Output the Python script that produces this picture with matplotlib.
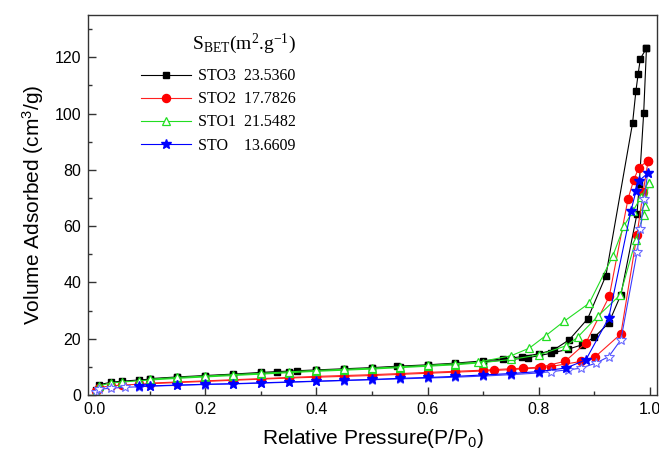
"""
BET isotherms (adsorption / desorption) for the STO samples.
"""

import matplotlib
matplotlib.use("Agg")
import matplotlib.pyplot as plt
import matplotlib.ticker as mticker

# --- STO3 (black squares) ---
p_sto3_ads = [0.003, 0.008, 0.03, 0.05, 0.08, 0.10, 0.15, 0.20, 0.25, 0.30, 0.35, 0.40,
              0.45, 0.50, 0.55, 0.60, 0.65, 0.70, 0.75, 0.78, 0.822, 0.852, 0.878, 0.90,
              0.926, 0.948, 0.977, 0.981, 0.989, 0.994]
v_sto3_ads = [1.8, 3.6, 4.5, 4.9, 5.3, 5.6, 6.2, 6.7, 7.2, 7.7, 8.2, 8.7,
              9.1, 9.5, 10.0, 10.5, 11.0, 11.7, 12.6, 13.2, 14.8, 16.2, 17.8, 20.5,
              25.5, 35.6, 64.4, 74.8, 100.2, 123.2]
p_sto3_des = [0.994, 0.983, 0.979, 0.975, 0.969, 0.921, 0.888, 0.855, 0.827, 0.80, 0.77,
              0.735, 0.70, 0.65, 0.60, 0.545, 0.50, 0.45, 0.40, 0.365, 0.33, 0.30, 0.25,
              0.20, 0.15, 0.10]
v_sto3_des = [123.2, 119.5, 114.0, 108.0, 96.6, 42.4, 27.0, 19.6, 16.0, 14.6, 13.6,
              12.8, 12.1, 11.3, 10.7, 10.2, 9.7, 9.3, 8.9, 8.6, 8.3, 8.0, 7.4,
              6.9, 6.4, 5.8]

# --- STO2 (red circles) ---
p_sto2_ads = [0.003, 0.008, 0.03, 0.05, 0.08, 0.10, 0.15, 0.20, 0.25, 0.30, 0.35, 0.40,
              0.45, 0.50, 0.55, 0.60, 0.65, 0.70, 0.75, 0.80, 0.822, 0.876, 0.902, 0.948,
              0.977, 0.988, 0.997]
v_sto2_ads = [1.5, 2.6, 3.2, 3.5, 3.8, 4.0, 4.4, 4.8, 5.2, 5.6, 6.0, 6.3,
              6.6, 6.9, 7.3, 7.7, 8.1, 8.5, 9.0, 9.6, 10.1, 11.9, 13.6, 21.7,
              57.0, 72.0, 83.3]
p_sto2_des = [0.997, 0.980, 0.971, 0.961, 0.927, 0.885, 0.848, 0.804, 0.771, 0.75, 0.72,
              0.70, 0.65, 0.60, 0.55, 0.50, 0.45, 0.40, 0.35, 0.30, 0.25, 0.20, 0.15, 0.10]
v_sto2_des = [83.3, 80.7, 76.3, 69.8, 35.0, 18.5, 12.0, 9.9, 9.5, 9.3, 9.0,
              8.8, 8.4, 8.0, 7.6, 7.2, 6.9, 6.6, 6.2, 5.8, 5.4, 5.0, 4.6, 4.2]

# --- STO1 (green open triangles) ---
p_sto1_ads = [0.003, 0.008, 0.03, 0.05, 0.08, 0.10, 0.15, 0.20, 0.25, 0.30, 0.35, 0.40,
              0.45, 0.50, 0.55, 0.60, 0.65, 0.70, 0.75, 0.80, 0.85, 0.87, 0.906, 0.947,
              0.975, 0.989, 0.992, 0.998]
v_sto1_ads = [1.2, 3.2, 4.2, 4.6, 5.0, 5.3, 5.9, 6.4, 6.9, 7.4, 7.9, 8.4,
              8.8, 9.2, 9.7, 10.2, 10.7, 11.5, 12.6, 14.2, 17.5, 20.5, 27.9, 35.6,
              55.2, 64.1, 67.0, 75.4]
p_sto1_des = [0.998, 0.985, 0.970, 0.954, 0.933, 0.891, 0.846, 0.813, 0.783, 0.75, 0.69,
              0.65, 0.60, 0.55, 0.50, 0.45, 0.40, 0.35, 0.30, 0.25, 0.20, 0.15, 0.10]
v_sto1_des = [75.4, 70.5, 65.5, 60.2, 49.2, 32.6, 26.2, 21.1, 16.6, 13.9, 11.6,
              11.1, 10.5, 10.0, 9.5, 9.1, 8.7, 8.2, 7.7, 7.2, 6.7, 6.2, 5.6]

# --- STO (blue stars) ---
p_sto_ads = [0.003, 0.008, 0.03, 0.055, 0.08, 0.10, 0.15, 0.20, 0.25, 0.30, 0.35, 0.40,
             0.45, 0.50, 0.55, 0.60, 0.65, 0.70, 0.75, 0.80, 0.822, 0.852, 0.876, 0.903,
             0.926, 0.948, 0.977, 0.983, 0.99, 0.996]
v_sto_ads = [1.2, 2.0, 2.4, 2.7, 2.9, 3.1, 3.4, 3.7, 3.9, 4.2, 4.5, 4.8,
             5.1, 5.4, 5.7, 6.0, 6.3, 6.7, 7.2, 7.8, 8.3, 8.9, 9.5, 11.3,
             13.6, 19.6, 50.7, 59.1, 69.8, 78.7]
p_sto_des = [0.996, 0.980, 0.975, 0.966, 0.926, 0.885, 0.85, 0.80, 0.75, 0.70, 0.65,
             0.60, 0.55, 0.50, 0.45, 0.40, 0.35, 0.30, 0.25, 0.20, 0.15, 0.10, 0.08]
v_sto_des = [78.7, 76.0, 72.4, 65.3, 27.3, 12.5, 9.6, 8.3, 7.6, 7.1, 6.6,
             6.2, 5.9, 5.5, 5.2, 4.9, 4.6, 4.3, 4.0, 3.8, 3.5, 3.2, 3.0]

labels = ["STO3  23.5360", "STO2  17.7826", "STO1  21.5482", "STO    13.6609"]

SANS = "Liberation Sans"
SERIF = "Liberation Serif"

fig = plt.figure(figsize=(6.59, 4.55), dpi=100)
ax = fig.add_axes([0.1335, 0.132, 0.8635, 0.835])

lw = 0.8
ms = 5

# STO3
l3, = ax.plot(p_sto3_ads, v_sto3_ads, color="black", lw=lw, marker="s", ms=ms,
              mfc="black", mec="black")
ax.plot(p_sto3_des, v_sto3_des, color="black", lw=lw, marker="s", ms=ms,
        mfc="black", mec="black")
# STO2
l2, = ax.plot(p_sto2_ads, v_sto2_ads, color="#ff2020", lw=lw, marker="o", ms=ms + 0.8,
              mfc="red", mec="red")
ax.plot(p_sto2_des, v_sto2_des, color="#ff2020", lw=lw, marker="o", ms=ms + 0.8,
        mfc="red", mec="red")
# STO1
l1, = ax.plot(p_sto1_ads, v_sto1_ads, color="#22dd22", lw=lw, marker="^", ms=ms + 1.2,
              mfc="white", mec="#22dd22", mew=0.9)
ax.plot(p_sto1_des, v_sto1_des, color="#22dd22", lw=lw, marker="^", ms=ms + 1.2,
        mfc="white", mec="#22dd22", mew=0.9)
# STO
ax.plot(p_sto_ads, v_sto_ads, color="#3a3aff", lw=lw, marker="*", ms=ms + 2,
        mfc="white", mec="#6a6aff", mew=0.8)
l0, = ax.plot(p_sto_des, v_sto_des, color="#0000ff", lw=lw, marker="*", ms=ms + 2,
              mfc="#0000ff", mec="#0000ff")

ax.set_xlim(-0.011, 1.013)
ax.set_ylim(0, 135)
ax.xaxis.set_major_locator(mticker.MultipleLocator(0.2))
ax.xaxis.set_minor_locator(mticker.MultipleLocator(0.1))
ax.yaxis.set_major_locator(mticker.MultipleLocator(20))
ax.yaxis.set_minor_locator(mticker.MultipleLocator(10))
ax.xaxis.set_major_formatter(mticker.FormatStrFormatter("%.1f"))
ax.tick_params(which="both", direction="in", top=False, right=False,
               color="#333333", width=1)
ax.tick_params(which="major", length=6, labelsize=11.5, pad=5)
ax.tick_params(which="minor", length=3)
for lab in ax.get_xticklabels() + ax.get_yticklabels():
    lab.set_fontfamily(SANS)
for sp in ax.spines.values():
    sp.set_color("#333333")
    sp.set_linewidth(1.0)

ax.set_xlabel("Relative Pressure(P/P$\\mathregular{_0}$)", fontsize=15,
              fontfamily=SANS, labelpad=7)
ax.set_ylabel("Volume Adsorbed (cm$\\mathregular{^3}$/g)", fontsize=15,
              fontfamily=SANS, labelpad=6)

leg = ax.legend([l3, l2, l1, l0], labels, loc="upper left",
                bbox_to_anchor=(0.068, 0.995), frameon=False,
                prop={"family": SERIF, "size": 11.5},
                title="S$\\mathregular{_{BET}}$(m$\\mathregular{^2}$.g$\\mathregular{^{-1}}$)",
                title_fontproperties={"family": SERIF, "size": 14},
                handlelength=3.1, handletextpad=0.45, labelspacing=0.45,
                alignment="right")
leg._legend_box.sep = 9

fig.savefig("out.png", dpi=100)
